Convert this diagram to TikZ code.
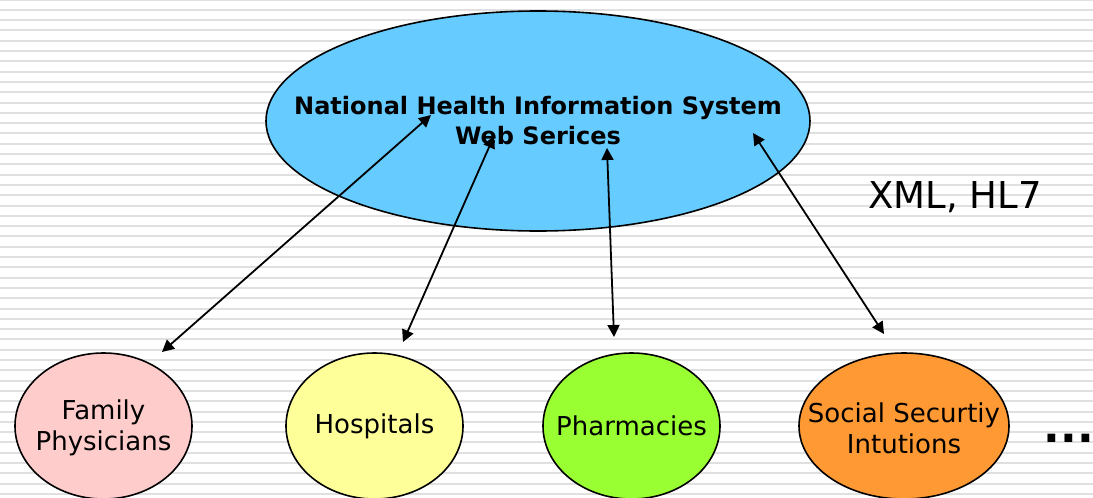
\documentclass[tikz,border=0pt]{standalone}
\usepackage{fontspec}
\setmainfont{DejaVu Sans}
\usetikzlibrary{shapes.geometric,arrows.meta}
\definecolor{mainblue}{HTML}{66CCFF}
\definecolor{fampink}{HTML}{FFCCCC}
\definecolor{hospyellow}{HTML}{FFFF99}
\definecolor{pharmgreen}{HTML}{99FF33}
\definecolor{socorange}{HTML}{FF9933}
\definecolor{stripegray}{HTML}{E0E0E0}
\tikzset{
  stripe/.style={draw=stripegray, line width=2pt},
  blob/.style={ellipse, draw=black, line width=1.6pt, inner sep=0pt},
  bigblob/.style={blob, minimum width=544pt, minimum height=220pt},
  smallblob/.style={blob, minimum width=177pt, minimum height=146pt},
  bigtext/.style={inner sep=0pt, align=center, font=\fontsize{24}{30}\selectfont\bfseries},
  smalltext/.style={inner sep=0pt, align=center, font=\fontsize{26}{31}\selectfont},
  link/.style={draw=black, line width=1.8pt, {Triangle[length=12pt,width=12pt]}-{Triangle[length=12pt,width=12pt]}},
  plain/.style={inner sep=0pt, font=\fontsize{37}{44}\selectfont}
}
\begin{document}
\begin{tikzpicture}[x=1pt,y=-1pt]
\useasboundingbox (0,0) rectangle (1093,498);
\fill[white] (0,0) rectangle (1093,498);
\foreach \i in {0,...,48} {
  \draw[stripe] (0,{-0.5+10.3*\i}) -- (1093,{-0.5+10.3*\i});
}
\node[bigblob, fill=mainblue] (nhis) at (538,121) {};
\node[bigtext] (nhist) at (nhis.center) {National Health Information System\\Web Serices};
\node[smallblob, fill=fampink] (fam) at (103.5,426) {};
\node[smalltext] (famt) at (103.5,428) {Family\\Physicians};
\node[smallblob, fill=hospyellow] (hosp) at (374.5,426) {};
\node[smalltext] (hospt) at (hosp.center) {Hospitals};
\node[smallblob, fill=pharmgreen] (pharm) at (631.5,426) {};
\node[smalltext] (pharmt) at (pharm.center) {Pharmacies};
\node[smallblob, fill=socorange, minimum width=210pt] (soc) at (904,426) {};
\node[smalltext] (soct) at (904,428) {Social Securtiy\\Intutions};
\node[plain] (xml) at (955,197) {XML, HL7};
\node[plain, font=\fontsize{44}{50}\selectfont\bfseries] (dots) at (1069,438) {...};
% arrow end points
\coordinate (a1) at (431,115);
\coordinate (b1) at (162,352);
\coordinate (a2) at (494,136);
\coordinate (b2) at (403,342);
\coordinate (a3) at (607,148);
\coordinate (b3) at (614,337);
\coordinate (a4) at (753,133);
\coordinate (b4) at (884,334);
\draw[link] (a1) -- (b1);
\draw[link] (a2) -- (b2);
\draw[link] (a3) -- (b3);
\draw[link] (a4) -- (b4);
\end{tikzpicture}
\end{document}
